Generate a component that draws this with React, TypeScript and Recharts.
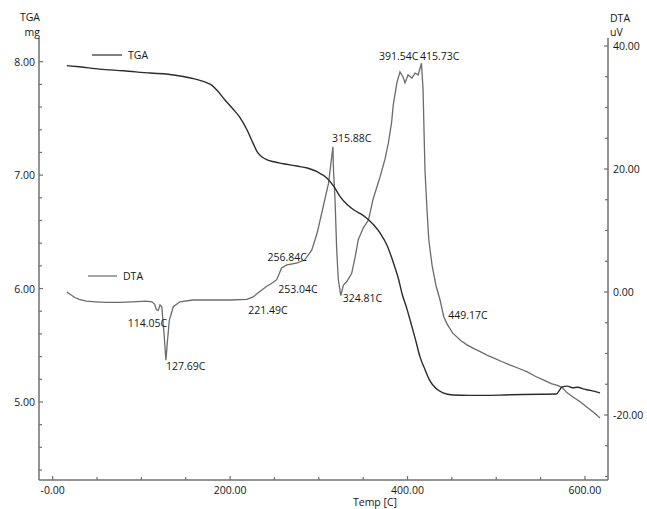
import React from 'react';
import { LineChart, Line, XAxis, YAxis, ReferenceDot } from 'recharts';

// TGA curve (temperature in C, mass in mg)
const tgaTemp = [
  16, 30, 53, 80, 110, 130, 147, 160, 166, 172, 178, 185, 194, 203, 211, 219, 226, 231, 236, 242,
  248, 260, 275, 287, 298, 309, 317, 324, 332, 340, 347, 354, 362, 369, 377, 384, 390, 394, 399, 403,
  409, 414, 420, 425, 432, 440, 451, 470, 490, 510, 530, 550, 568, 571, 574, 580, 586, 592, 598, 604,
  610, 617,
];
const tgaMass = [
  7.965, 7.955, 7.935, 7.92, 7.9, 7.89, 7.87, 7.848, 7.835, 7.82, 7.8, 7.75, 7.665, 7.585, 7.51, 7.4, 7.28, 7.2, 7.16, 7.135,
  7.12, 7.1, 7.08, 7.063, 7.03, 6.975, 6.9, 6.81, 6.74, 6.69, 6.66, 6.62, 6.56, 6.49, 6.38, 6.23, 6.08, 5.95, 5.83, 5.72,
  5.55, 5.4, 5.28, 5.19, 5.12, 5.08, 5.062, 5.058, 5.058, 5.062, 5.066, 5.068, 5.07, 5.1, 5.13, 5.14, 5.125, 5.13, 5.115, 5.105,
  5.095, 5.08,
];

// DTA curve (temperature in C, signal in uV)
const dtaTemp = [
  16, 20, 25, 30, 38, 48, 60, 75, 90, 105, 112, 115, 117, 119, 121, 123, 125.5, 127.7, 129.2, 131.5,
  136, 143.5, 158, 180, 200, 219, 226, 232, 241, 248, 252.5, 255.5, 258, 264, 275, 284, 292, 298, 305, 311,
  315.9, 316.5, 318.3, 320.2, 322, 324.8, 327.6, 331.5, 337, 341, 344.5, 350, 356, 361, 369, 374.6, 378.4, 382, 384, 388,
  391.5, 394.9, 397.2, 400.6, 405, 408.5, 412, 415.7, 417.5, 418.6, 419.7, 422, 424, 427.6, 432, 436.7, 441, 445, 451, 460,
  467, 476, 482, 490, 497, 506, 516, 525, 535, 544, 553, 562, 569, 574, 580, 587, 595, 602, 610, 617,
];
const dtaSignal = [
  0, -0.4, -0.9, -1.2, -1.5, -1.6, -1.7, -1.7, -1.6, -1.5, -1.6, -2.0, -2.9, -3.0, -2.1, -2.4, -6.7, -11.1, -8.3, -4.6,
  -2.4, -1.6, -1.3, -1.3, -1.3, -1.2, -0.8, -0.1, 0.9, 1.5, 2.0, 3.0, 3.9, 4.4, 4.7, 5.2, 6.8, 9.5, 13.9, 17.7,
  23.6, 20.0, 15.0, 6.8, 2.0, -0.6, 1.1, 1.7, 3.0, 5.7, 8.5, 10.4, 11.7, 15.0, 18.7, 21.6, 24.2, 27.5, 30.5, 34.0,
  35.8, 35.0, 34.0, 35.3, 34.8, 35.6, 35.3, 37.2, 33.0, 26.3, 19.8, 13.3, 8.5, 4.4, 1.1, -1.3, -4.1, -5.3, -6.7, -7.9,
  -8.6, -9.3, -9.7, -10.3, -10.7, -11.3, -11.9, -12.4, -13.0, -13.7, -14.3, -14.9, -15.2, -15.5, -16.4, -17.1, -17.9, -18.7, -19.6, -20.5,
];

// labelled DTA events
const peakTemps = [114.05, 127.69, 221.49, 253.04, 256.84, 315.88, 324.81, 391.54, 415.73, 449.17];
const peakValues = [-3.0, -11.1, -1.2, 2.0, 3.3, 23.6, -0.6, 35.8, 37.2, -6.9];
const peakLabels = ['114.05C', '127.69C', '221.49C', '253.04C', '256.84C', '315.88C', '324.81C', '391.54C', '415.73C', '449.17C'];

// axis ticks
const xTicks = [0, 50, 100, 150, 200, 250, 300, 350, 400, 450, 500, 550, 600];
const xMajorTicks = [0, 200, 400, 600];
const xTickLabels = ['-0.00', '200.00', '400.00', '600.00'];
const tgaTicks = [4.4, 4.6, 4.8, 5, 5.2, 5.4, 5.6, 5.8, 6, 6.2, 6.4, 6.6, 6.8, 7, 7.2, 7.4, 7.6, 7.8, 8];
const tgaMajorTicks = [5, 6, 7, 8];
const dtaTicks = [-30, -25, -20, -15, -10, -5, 0, 5, 10, 15, 20, 25, 30, 35, 40];
const dtaMajorTicks = [-20, 0, 20, 40];

const tgaData = tgaTemp.map((t, i) => ({ t, v: tgaMass[i] }));
const dtaData = dtaTemp.map((t, i) => ({ t, v: dtaSignal[i] }));

// text offsets for the event labels (px from the event point: left edge, middle)
const labelOffsets = [
  [-26, 12.5], [0, 6], [-1, 11], [1, 9], [-13, -15], [-1, -9], [2, 2], [-21, -16], [-1.5, -7], [-3, -19],
];

const FONT = '"Open Sans", sans-serif';
const FS = 10.5;
const TEXT = '#161616';
const AXIS = '#707070';
const TGA_COLOR = '#2b2b2b';
const DTA_COLOR = '#6b6b6b';

const isIn = (list: number[], v: number) => list.some((m) => Math.abs(m - v) < 1e-6);

const BottomTick = ({ x, y, payload }: any) => {
  const idx = xMajorTicks.findIndex((m) => Math.abs(m - payload.value) < 1e-6);
  const major = idx >= 0;
  return (
    <g>
      <line x1={x} x2={x} y1={y} y2={y - (major ? 4 : 3)} stroke={AXIS} strokeWidth={1.2} />
      {major && (
        <text x={x} y={y + 10} textAnchor="middle" dominantBaseline="central" fontFamily={FONT} fontSize={FS} fill={TEXT}>
          {xTickLabels[idx]}
        </text>
      )}
    </g>
  );
};

const LeftTick = ({ x, y, payload }: any) => {
  const major = isIn(tgaMajorTicks, payload.value);
  return (
    <g>
      <line x1={x} x2={x + (major ? 4 : 3)} y1={y} y2={y} stroke={AXIS} strokeWidth={1.2} />
      {major && (
        <text x={x - 4} y={y} textAnchor="end" dominantBaseline="central" fontFamily={FONT} fontSize={FS} fill={TEXT}>
          {payload.value.toFixed(2)}
        </text>
      )}
    </g>
  );
};

const RightTick = ({ x, y, payload }: any) => {
  const major = isIn(dtaMajorTicks, payload.value);
  return (
    <g>
      <line x1={x} x2={x - (major ? 4 : 3)} y1={y} y2={y} stroke={AXIS} strokeWidth={1.2} />
      {major && (
        <text x={x + 5} y={y} textAnchor="start" dominantBaseline="central" fontFamily={FONT} fontSize={FS} fill={TEXT}>
          {payload.value.toFixed(2)}
        </text>
      )}
    </g>
  );
};

const txt = (x: number, y: number, s: string, anchor: 'start' | 'middle' | 'end' = 'start') => (
  <text x={x} y={y} textAnchor={anchor} dominantBaseline="central" fontFamily={FONT} fontSize={FS} fill={TEXT}>
    {s}
  </text>
);

export default function App() {
  return (
    <div style={{ position: 'absolute', left: 0, top: 0, width: 647, height: 509, background: '#fff' }}>
      <LineChart width={647} height={509} margin={{ top: 38, right: 0, bottom: 0, left: 0 }}>
        <XAxis
          xAxisId="top"
          orientation="top"
          type="number"
          dataKey="t"
          domain={[-15.4, 626]}
          allowDataOverflow
          height={0}
          tick={false}
          tickLine={false}
          axisLine={{ stroke: '#cfcfcf', strokeWidth: 1.5 }}
        />
        <XAxis
          type="number"
          dataKey="t"
          domain={[-15.4, 626]}
          allowDataOverflow
          ticks={xTicks}
          interval={0}
          height={29}
          tickSize={0}
          tickMargin={0}
          tickLine={false}
          tick={<BottomTick />}
          axisLine={{ stroke: AXIS, strokeWidth: 1.4 }}
        />
        <YAxis
          yAxisId="tga"
          type="number"
          domain={[4.312, 8.209]}
          allowDataOverflow
          ticks={tgaTicks}
          interval={0}
          width={39}
          tickSize={0}
          tickMargin={0}
          tickLine={false}
          tick={<LeftTick />}
          axisLine={{ stroke: AXIS, strokeWidth: 1.5 }}
        />
        <YAxis
          yAxisId="dta"
          orientation="right"
          type="number"
          domain={[-30.57, 41.3]}
          allowDataOverflow
          ticks={dtaTicks}
          interval={0}
          width={39}
          tickSize={0}
          tickMargin={0}
          tickLine={false}
          tick={<RightTick />}
          axisLine={{ stroke: AXIS, strokeWidth: 1.5 }}
        />
        <Line
          yAxisId="dta"
          data={dtaData}
          dataKey="v"
          type="linear"
          stroke={DTA_COLOR}
          strokeWidth={1.3}
          dot={false}
          activeDot={false}
          isAnimationActive={false}
        />
        <Line
          yAxisId="tga"
          data={tgaData}
          dataKey="v"
          type="monotone"
          stroke={TGA_COLOR}
          strokeWidth={1.4}
          dot={false}
          activeDot={false}
          isAnimationActive={false}
        />
        {peakTemps.map((t, i) => (
          <ReferenceDot
            key={peakLabels[i]}
            yAxisId="dta"
            x={t}
            y={peakValues[i]}
            r={0}
            ifOverflow="visible"
            shape={(p: any) => (
              <text
                x={p.cx + labelOffsets[i][0]}
                y={p.cy + labelOffsets[i][1]}
                dominantBaseline="central"
                fontFamily={FONT}
                fontSize={FS}
                fill={TEXT}
              >
                {peakLabels[i]}
              </text>
            )}
          />
        ))}
      </LineChart>
      <svg width={647} height={509} style={{ position: 'absolute', left: 0, top: 0, pointerEvents: 'none' }}>
        {txt(40, 17, 'TGA', 'end')}
        {txt(40, 32, 'mg', 'end')}
        {txt(610, 18, 'DTA')}
        {txt(610, 32, 'uV')}
        {txt(375, 502, 'Temp  [C]', 'middle')}
        <line x1={92} x2={122} y1={55} y2={55} stroke={TGA_COLOR} strokeWidth={1.2} />
        {txt(128, 55, 'TGA')}
        <line x1={88} x2={117} y1={276} y2={276} stroke={DTA_COLOR} strokeWidth={1.2} />
        {txt(123, 276, 'DTA')}
      </svg>
    </div>
  );
}
